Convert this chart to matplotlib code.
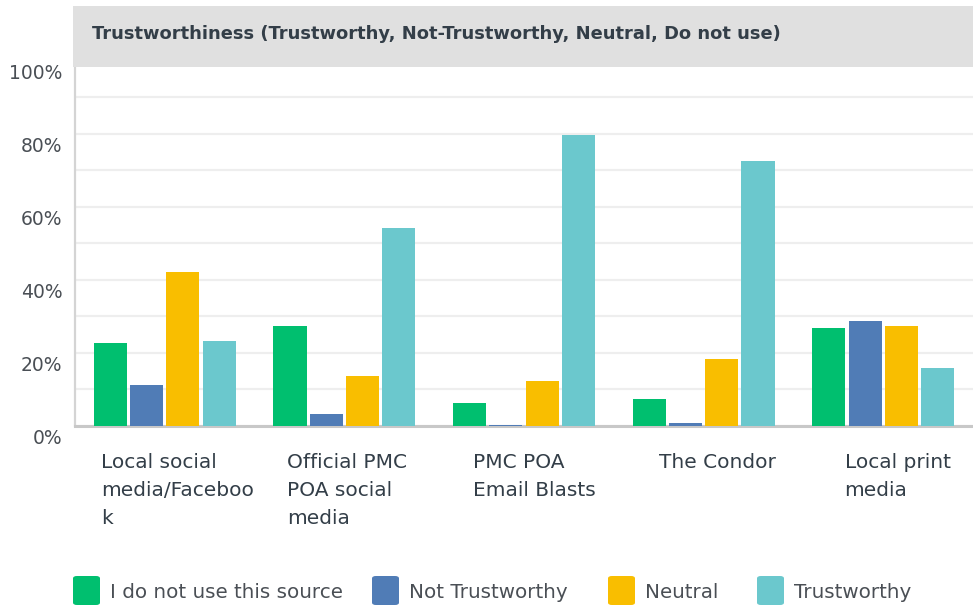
import matplotlib

matplotlib.use("Agg")
import matplotlib.pyplot as plt
import matplotlib.transforms as mtransforms
from matplotlib.patches import FancyBboxPatch, Rectangle
import numpy as np

plt.rcParams["font.family"] = ["DejaVu Sans"]

TITLE = "Trustworthiness (Trustworthy, Not-Trustworthy, Neutral, Do not use)"

SOURCES = [
    "Local social\nmedia/Faceboo\nk",
    "Official PMC\nPOA social\nmedia",
    "PMC POA\nEmail Blasts",
    "The Condor",
    "Local print\nmedia",
]

SERIES = ["I do not use this source", "Not Trustworthy", "Neutral", "Trustworthy"]
COLORS = ["#00bf6f", "#507cb6", "#f9be00", "#6bc8cd"]

# percent of respondents per source
DO_NOT_USE = [22.7, 27.3, 6.2, 7.3, 26.8]
NOT_TRUSTWORTHY = [11.2, 3.2, 0.3, 0.8, 28.7]
NEUTRAL = [42.1, 13.6, 12.2, 18.3, 27.3]
TRUSTWORTHY = [23.2, 54.2, 79.6, 72.5, 15.8]

YTICKS = [0, 20, 40, 60, 80, 100]

TEXT = "#333e48"
W, H = 973, 609

fig = plt.figure(figsize=(W / 100, H / 100), dpi=100)
ax = fig.add_axes([75 / W, 1 - 425.7 / H, 1 - 75 / W, (425.7 - 60.7) / H])

values = [DO_NOT_USE, NOT_TRUSTWORTHY, NEUTRAL, TRUSTWORTHY]
x = np.arange(len(SOURCES))
bar_w = 0.184
step = 0.202
for k, (vals, color) in enumerate(zip(values, COLORS)):
    ax.bar(x + (k - 1.5) * step, vals, width=bar_w, color=color, zorder=3)

ax.set_xlim(-0.5, len(SOURCES) - 0.5)
ax.set_ylim(0, 100)
ax.set_yticks(YTICKS)
ax.set_yticklabels([f"{v}%" for v in YTICKS], fontsize=13.5, color="#4a4f55")
ax.set_yticks(np.arange(0, 101, 10), minor=True)
ax.tick_params(axis="y", which="both", length=0, pad=9)
ax.set_xticks([])
ax.grid(axis="y", which="both", color="#eeeeee", linewidth=1.6, zorder=0)

# y labels sit a little below their gridlines
offset = mtransforms.ScaledTranslation(0, -0.11, fig.dpi_scale_trans)
for lbl in ax.get_yticklabels():
    lbl.set_transform(lbl.get_transform() + offset)

for side in ["top", "right"]:
    ax.spines[side].set_visible(False)
ax.spines["left"].set_color("#d4d4d4")
ax.spines["left"].set_linewidth(1.6)
ax.spines["bottom"].set_color("#c8c8c8")
ax.spines["bottom"].set_linewidth(2.2)

# category labels, left aligned under each group
for i, name in enumerate(SOURCES):
    ax.text(i * 1.035 - 0.355, -0.075, name, transform=ax.get_xaxis_transform(),
            ha="left", va="top", fontsize=14.5, color=TEXT, linespacing=1.6)

# header band
fig.patches.append(Rectangle((73 / W, 1 - 67 / H), 1 - 73 / W, 61 / H,
                             transform=fig.transFigure, facecolor="#e0e0e0",
                             edgecolor="none", zorder=5))
fig.text(92 / W, 1 - 34 / H, TITLE, ha="left", va="center", fontsize=12.9,
         fontweight="bold", color=TEXT, zorder=6)

# legend row
legend_x = [73, 372, 608, 757]
for lx, label, color in zip(legend_x, SERIES, COLORS):
    fig.patches.append(FancyBboxPatch((lx / W, 1 - 605 / H), 27 / W, 29 / H,
                                      boxstyle="round,pad=0,rounding_size=0.004",
                                      transform=fig.transFigure, facecolor=color,
                                      edgecolor="none"))
    fig.text((lx + 37) / W, 1 - 592 / H, label, ha="left", va="center",
             fontsize=14.3, color="#4a4f55")

fig.savefig("out.png", dpi=100)
